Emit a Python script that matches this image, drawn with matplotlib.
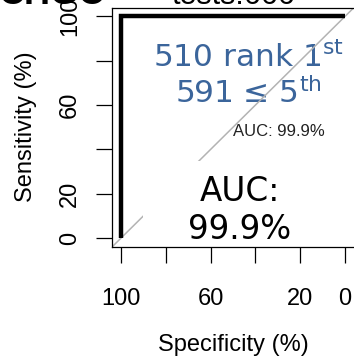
import matplotlib
matplotlib.use("Agg")
import matplotlib.pyplot as plt
from matplotlib.patches import Rectangle

# ---- data ----
specificity = [100, 100, 0]      # %
sensitivity = [0, 100, 100]      # %
diag_x = [104, -4]
diag_y = [-4, 104]
x_ticks = [100, 80, 60, 40, 20, 0]
x_tick_labels = ["100", "", "60", "", "20", "0"]
y_ticks = [0, 20, 40, 60, 80, 100]
y_tick_labels = ["0", "20", "", "60", "", "100"]
auc_text = "AUC: 99.9%"
big_auc_text = "AUC:\n99.9%"
rank_line1 = "510 rank 1$^{\\mathrm{st}}$"
rank_line2 = "591 \u2264 5$^{\\mathrm{th}}$"
title_left = "CHGO"
title_mid = "tests:666"

W, H = 354, 358
fig = plt.figure(figsize=(W / 100, H / 100), dpi=100)
fig.patch.set_facecolor("white")

ax_l, ax_r, ax_t, ax_b = 112, 354, 7.5, 247
ax = fig.add_axes([ax_l / W, 1 - ax_b / H, (ax_r - ax_l) / W, (ax_b - ax_t) / H])
ax.set_xlim(104, -4)
ax.set_ylim(-4, 104)

# diagonal
ax.plot(diag_x, diag_y, color="#b3b3b3", lw=1.1, zorder=2.2, clip_on=True)

# white background box behind big AUC text
ax.add_patch(Rectangle((0.128, 0.0), 0.80, 0.359, transform=ax.transAxes,
                       facecolor="white", edgecolor="none", zorder=2.3))

# ROC curve
ax.plot(specificity, sensitivity, color="black", lw=3.2, zorder=3,
        solid_joinstyle="miter", solid_capstyle="butt")

# texts
blue = "#3b659b"
ax.text(0.565, 0.793, rank_line1, transform=ax.transAxes, ha="center", va="center",
        fontsize=22.5, color=blue, family="DejaVu Sans", zorder=2)
ax.text(0.565, 0.643, rank_line2, transform=ax.transAxes, ha="center", va="center",
        fontsize=22.5, color=blue, family="DejaVu Sans", zorder=2)
ax.text((233 - ax_l) / (ax_r - ax_l), (ax_b - 132) / (ax_b - ax_t), auc_text,
        transform=ax.transAxes, ha="left", va="center", fontsize=12,
        family="Liberation Sans", color="#222222", zorder=2.4)
ax.text((240 - ax_l) / (ax_r - ax_l), (ax_b - 210.5) / (ax_b - ax_t), big_auc_text,
        transform=ax.transAxes, ha="center", va="center", fontsize=23.5,
        family="DejaVu Sans", color="black", linespacing=1.2, zorder=2.4)

# spines
for s in ["left", "top", "bottom"]:
    ax.spines[s].set_linewidth(0.9)
ax.spines["right"].set_visible(False)

ax.set_xticks(x_ticks)
ax.set_xticklabels(x_tick_labels, family="Liberation Sans", fontsize=17)
ax.set_yticks(y_ticks)
ax.set_yticklabels(y_tick_labels, family="Liberation Sans", fontsize=17,
                   rotation=90, va="center")
ax.tick_params(axis="x", length=11.5, width=0.9, pad=18)
ax.tick_params(axis="y", length=11.5, width=0.9, pad=11)

fig.text(233 / W, 1 - 345 / H, "Specificity (%)", ha="center", va="center",
         fontsize=17, family="Liberation Sans")
fig.text(26 / W, 1 - 127 / H, "Sensitivity (%)", ha="center", va="center",
         rotation=90, fontsize=17, family="Liberation Sans")

# top titles (mostly outside the figure)
fig.text(-2 / W, 1 - 4 / H, title_left, ha="left", va="baseline",
         fontsize=26, fontweight="bold", family="Liberation Sans")
fig.text(233 / W, 1 - 4 / H, title_mid, ha="center", va="baseline",
         fontsize=22, family="Liberation Sans")

fig.savefig("out.png", dpi=100)
